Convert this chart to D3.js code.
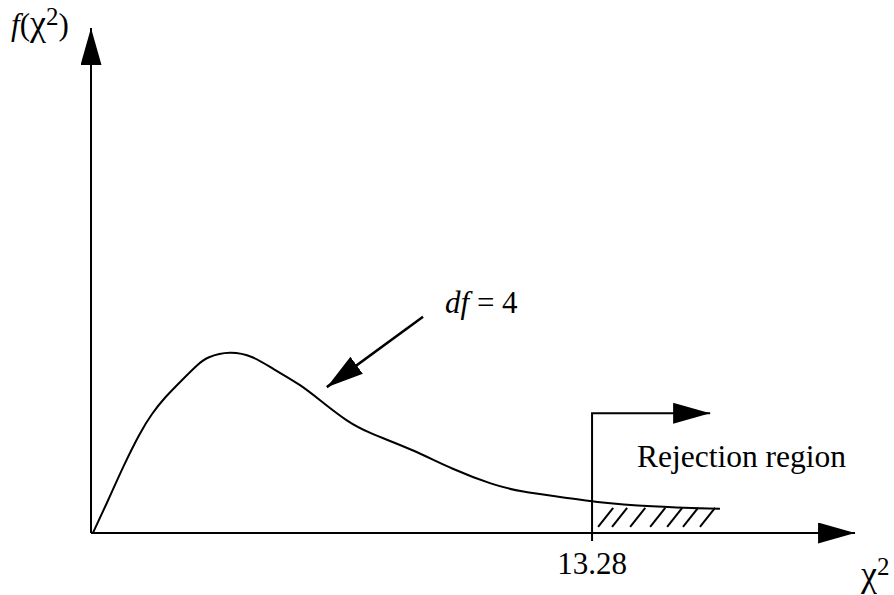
<!doctype html>
<html>
<head>
<script src="https://cdnjs.cloudflare.com/ajax/libs/d3/7.8.5/d3.min.js"></script>
<style>
  body { margin: 0; background: #fff; }
  text { font-family: "Liberation Serif", "Times New Roman", serif; fill: #000; }
</style>
</head>
<body>
<svg width="894" height="595"></svg>
<script>
// chi-square density curve (x = chi2, y = f)
var chiX = [0.05, 0.45, 0.85, 1.30, 1.62, 1.96, 2.41, 2.81, 3.07, 3.68, 4.29, 4.82, 5.54, 6.20, 6.79, 7.32, 8.53, 9.59, 10.65, 11.37, 12.62, 13.28, 14.82, 16.67];
var chiY = [0, 0.032, 0.066, 0.100, 0.119, 0.135, 0.152, 0.167, 0.175, 0.181, 0.176, 0.163, 0.148, 0.128, 0.111, 0.100, 0.083, 0.063, 0.048, 0.041, 0.035, 0.031, 0.026, 0.024];
var critical = 13.28;
var hatchStarts = [13.44, 13.81, 14.29, 14.82, 15.27, 15.69, 16.14];
var dfLabel = "4";

var svg = d3.select("svg");
var x = d3.scaleLinear().domain([0, 20]).range([91, 845.6]);
var y = d3.scaleLinear().domain([0, 0.5]).range([533, 30]);

var defs = svg.append("defs");
defs.append("marker")
    .attr("id", "head")
    .attr("markerUnits", "userSpaceOnUse")
    .attr("markerWidth", 38).attr("markerHeight", 22)
    .attr("refX", 37).attr("refY", 10.5)
    .attr("orient", "auto")
  .append("path")
    .attr("d", "M0,0 L37,10.5 L0,21 Z")
    .attr("fill", "#000");

// axes
svg.append("line")
    .attr("x1", x(0)).attr("y1", y(0))
    .attr("x2", x(0)).attr("y2", y(0.502))
    .attr("stroke", "#000").attr("stroke-width", 2)
    .attr("marker-end", "url(#head)");
svg.append("line")
    .attr("x1", x(0)).attr("y1", y(0))
    .attr("x2", x(20.25)).attr("y2", y(0))
    .attr("stroke", "#000").attr("stroke-width", 2)
    .attr("marker-end", "url(#head)");

// density curve
var pts = chiX.map(function(d, i) { return [d, chiY[i]]; });
var line = d3.line()
    .x(function(d) { return x(d[0]); })
    .y(function(d) { return y(d[1]); })
    .curve(d3.curveBasis);
svg.append("path")
    .datum(pts)
    .attr("d", line)
    .attr("fill", "none")
    .attr("stroke", "#000")
    .attr("stroke-width", 2);

// hatching under the tail
svg.selectAll("line.hatch")
    .data(hatchStarts)
    .enter()
    .append("line")
    .attr("class", "hatch")
    .attr("x1", function(d) { return x(d); })
    .attr("y1", y(0.006))
    .attr("x2", function(d) { return x(d + 0.4); })
    .attr("y2", y(0.025))
    .attr("stroke", "#000").attr("stroke-width", 2);

// rejection region bracket
svg.append("path")
    .attr("d", "M" + x(critical) + "," + y(-0.008) +
               "V" + y(0.119) + "H" + x(16.41))
    .attr("fill", "none")
    .attr("stroke", "#000").attr("stroke-width", 2)
    .attr("marker-end", "url(#head)");

// pointer arrow to the curve
svg.append("line")
    .attr("x1", x(8.80)).attr("y1", y(0.215))
    .attr("x2", x(6.25)).attr("y2", y(0.145))
    .attr("stroke", "#000").attr("stroke-width", 2.5)
    .attr("marker-end", "url(#head)");

// labels
var fl = svg.append("text").attr("x", 11).attr("y", 35).attr("font-size", 31);
fl.append("tspan").attr("font-style", "italic").text("f");
fl.append("tspan").text("(");
fl.append("tspan").attr("font-size", 36).text("\u03c7");
fl.append("tspan").attr("font-size", 25).attr("dy", -10).text("2");
fl.append("tspan").attr("dy", 10).text(")");

var xl = svg.append("text").attr("x", 861).attr("y", 586).attr("font-size", 36);
xl.append("tspan").text("\u03c7");
xl.append("tspan").attr("font-size", 25).attr("dy", -11).text("2");

var dl = svg.append("text").attr("x", 445).attr("y", 313).attr("font-size", 31);
dl.append("tspan").attr("font-style", "italic").text("df");
dl.append("tspan").text(" = " + dfLabel);

svg.append("text")
    .attr("x", x(critical)).attr("y", 574)
    .attr("text-anchor", "middle")
    .attr("font-size", 31)
    .text(critical.toFixed(2));

svg.append("text")
    .attr("x", 637).attr("y", 467)
    .attr("font-size", 31.5)
    .text("Rejection region");
</script>
</body>
</html>
